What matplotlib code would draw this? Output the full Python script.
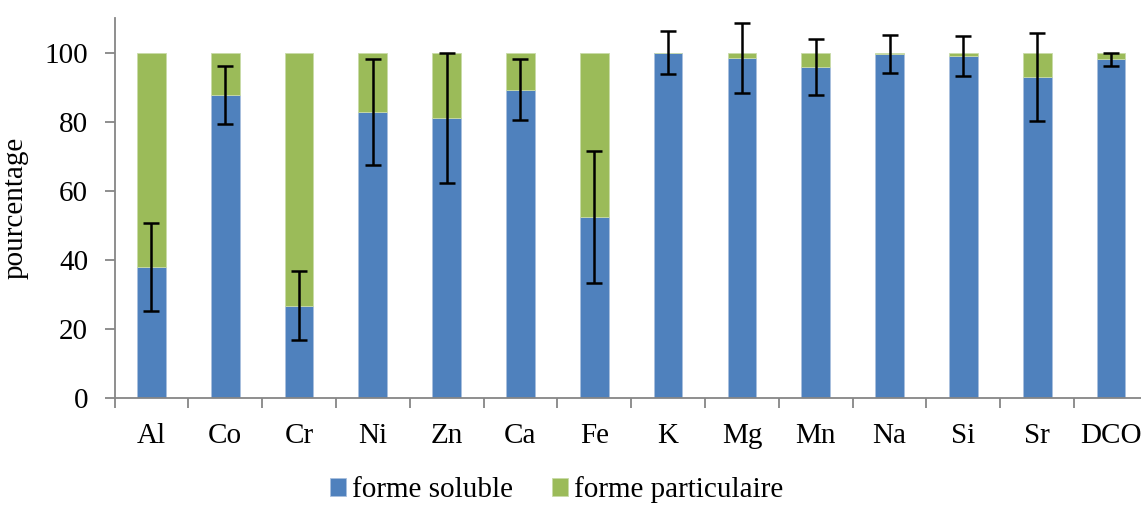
import matplotlib
matplotlib.use("Agg")
import matplotlib.pyplot as plt
import numpy as np

categories = ["Al", "Co", "Cr", "Ni", "Zn", "Ca", "Fe", "K", "Mg", "Mn", "Na", "Si", "Sr", "DCO"]
soluble = [38.0, 87.7, 26.8, 82.7, 81.1, 89.2, 52.4, 100.0, 98.4, 95.8, 99.6, 99.0, 92.9, 98.0]
errors = [12.8, 8.5, 9.9, 15.3, 18.8, 8.8, 19.0, 6.2, 10.1, 8.2, 5.6, 5.9, 12.8, 1.8]
particulaire = [100 - s for s in soluble]

plt.rcParams['font.family'] = ['Liberation Serif', 'DejaVu Serif']
FS = 21

fig = plt.figure(figsize=(11.41, 5.05), dpi=100)
ax = fig.add_axes([0.1004, 0.2113, 0.9056, 0.7531])

x = np.arange(len(categories))
w = 0.39
ax.bar(x, soluble, w, color="#4F81BD", edgecolor="#A9C0DE", linewidth=0.6, label="forme soluble", zorder=2)
ax.bar(x, particulaire, w, bottom=soluble, color="#9BBB59", edgecolor="#C9DBA8", linewidth=0.6,
       label="forme particulaire", zorder=2)
ax.errorbar(x, soluble, yerr=errors, fmt="none", ecolor="black", elinewidth=1.8, capsize=5.5,
            capthick=1.8, zorder=3)

ax.set_xlim(-0.5, len(categories) - 0.5)
ax.set_ylim(0, 110)
ax.set_yticks([0, 20, 40, 60, 80, 100])
ax.set_xticks(x)
ax.set_xticklabels(categories)
ax.set_xticks(np.arange(-0.5, len(categories), 1), minor=True)
ax.tick_params(axis="x", which="major", length=0, pad=18, labelsize=FS)
ax.tick_params(axis="x", which="minor", length=7, width=1.3, color="#868686", direction="out")
ax.tick_params(axis="y", length=7, width=1.3, color="#868686", pad=12, labelsize=FS)

for s in ["top", "right"]:
    ax.spines[s].set_visible(False)
for s in ["left", "bottom"]:
    ax.spines[s].set_color("#868686")
    ax.spines[s].set_linewidth(1.3)

ax.set_ylabel("pourcentage", fontsize=FS)
ax.yaxis.set_label_coords(-0.083, 0.5)

handles, labels = ax.get_legend_handles_labels()
fig.legend(handles, labels, loc="center", bbox_to_anchor=(0.488, 1 - 490 / 505), ncol=2,
           frameon=False, fontsize=FS, handlelength=0.55, handleheight=0.55, handletextpad=0.2,
           columnspacing=1.35)

fig.savefig("out.png", dpi=100)
